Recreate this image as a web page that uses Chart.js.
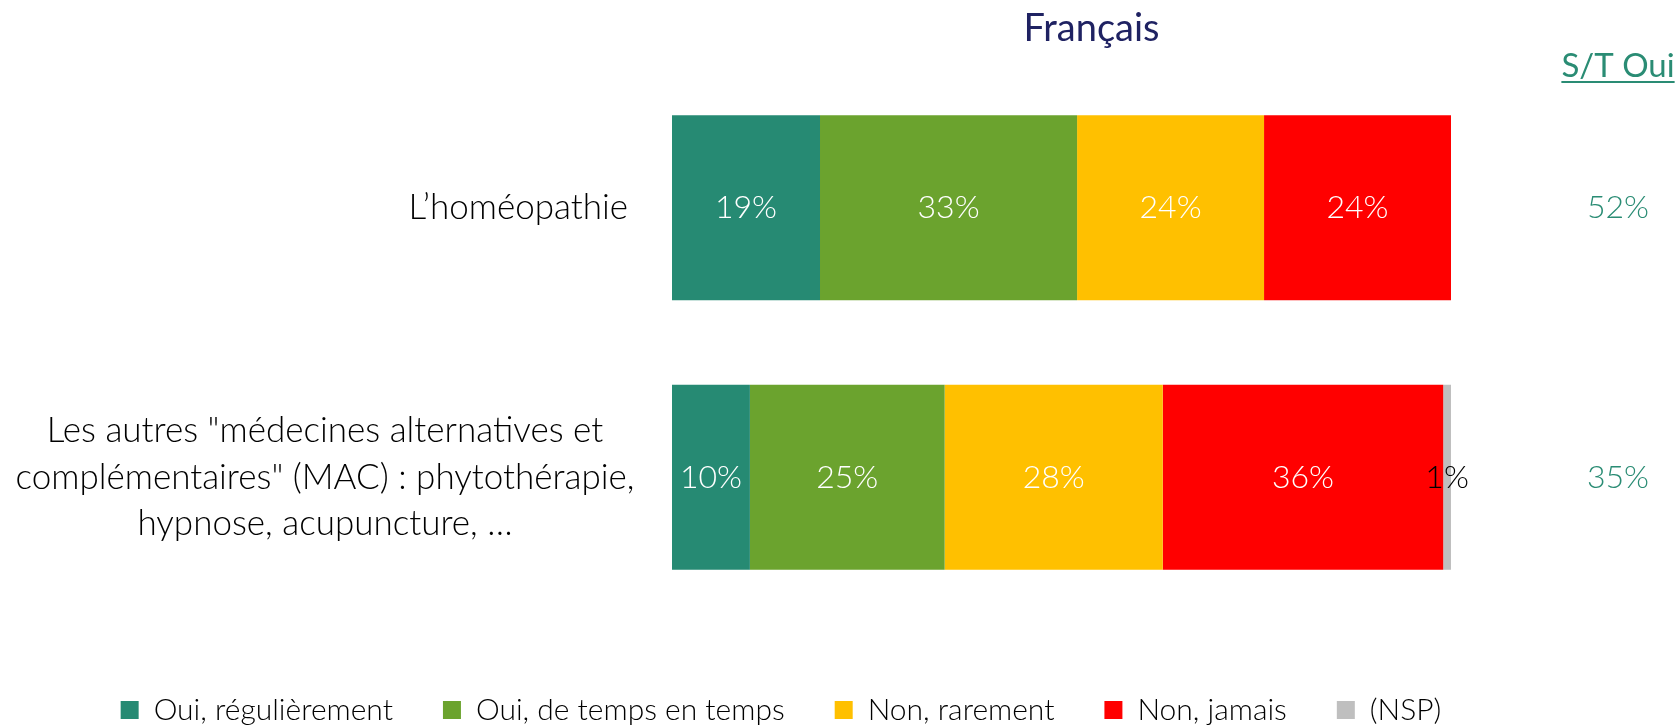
<!DOCTYPE html>
<html>
<head>
<meta charset="utf-8">
<script src="https://cdn.jsdelivr.net/npm/chart.js@4.4.1/dist/chart.umd.min.js"></script>
<style>
html,body{margin:0;padding:0;background:#ffffff;}
#wrap{width:1677px;height:725px;position:relative;}
</style>
</head>
<body>
<div id="wrap"><canvas id="c" width="1677" height="725"></canvas></div>
<script>
// ---- data ----
const chartTitle = 'Français';
const summaryHeader = 'S/T Oui';
const categories = [
  ['L\u2019homéopathie'],
  ['Les autres "médecines alternatives et', 'complémentaires" (MAC) : phytothérapie,', 'hypnose, acupuncture, …']
];
const seriesNames = ['Oui, régulièrement', 'Oui, de temps en temps', 'Non, rarement', 'Non, jamais', '(NSP)'];
const ouiRegulierement = [19, 10];
const ouiDeTempsEnTemps = [33, 25];
const nonRarement = [24, 28];
const nonJamais = [24, 36];
const nsp = [0, 1];
const seriesColors = ['#268A73', '#6BA32E', '#FFC000', '#FF0000', '#BFBFBF'];

const FONT = "Lato, 'Open Sans', 'DejaVu Sans', sans-serif";
Chart.defaults.font.family = FONT;

const series = [ouiRegulierement, ouiDeTempsEnTemps, nonRarement, nonJamais, nsp];
const datasets = series.map((d, i) => ({
  label: seriesNames[i],
  data: d,
  backgroundColor: seriesColors[i],
  borderWidth: 0,
  barPercentage: 0.686,
  categoryPercentage: 1
}));

const overlay = {
  id: 'overlay',
  afterDatasetsDraw(chart) {
    const ctx = chart.ctx;
    const ca = chart.chartArea;
    // value labels inside bars
    chart.data.datasets.forEach((ds, di) => {
      const meta = chart.getDatasetMeta(di);
      meta.data.forEach((bar, i) => {
        const v = ds.data[i];
        if (!v) return;
        ctx.save();
        ctx.font = '300 32px ' + FONT;
        ctx.fillStyle = di === 4 ? '#000000' : '#ffffff';
        ctx.textAlign = 'center';
        ctx.textBaseline = 'middle';
        ctx.fillText(v + '%', (bar.x + bar.base) / 2, bar.y);
        ctx.restore();
      });
    });
    // category labels
    const meta0 = chart.getDatasetMeta(0);
    categories.forEach((lines, i) => {
      const yc = meta0.data[i].y;
      ctx.save();
      ctx.font = '300 35px ' + FONT;
      ctx.fillStyle = '#000000';
      ctx.textBaseline = 'middle';
      const lh = 46.5;
      lines.forEach((t, k) => {
        const y = yc + (k - (lines.length - 1) / 2) * lh;
        if (lines.length === 1) {
          ctx.textAlign = 'right';
          ctx.fillText(t, ca.left - 44, y);
        } else {
          ctx.textAlign = 'center';
          ctx.fillText(t, 325, y);
        }
      });
      ctx.restore();
    });
    // summary column (S/T Oui = sum of the two "Oui" series)
    const colX = ca.right + 167;
    chart.data.labels.forEach((l, i) => {
      const yc = meta0.data[i].y;
      const s = ouiRegulierement[i] + ouiDeTempsEnTemps[i];
      ctx.save();
      ctx.font = '300 32px ' + FONT;
      ctx.fillStyle = '#2A8C74';
      ctx.textAlign = 'center';
      ctx.textBaseline = 'middle';
      ctx.fillText(s + '%', colX, yc);
      ctx.restore();
    });
    // header
    ctx.save();
    ctx.font = '400 33px ' + FONT;
    ctx.fillStyle = '#2A8C74';
    ctx.textAlign = 'center';
    ctx.textBaseline = 'alphabetic';
    ctx.fillText(summaryHeader, colX, 77);
    const w = ctx.measureText(summaryHeader).width;
    ctx.fillRect(colX - w / 2, 81, w, 2);
    ctx.restore();
    // title
    ctx.save();
    ctx.font = '400 38px ' + FONT;
    ctx.fillStyle = '#1F2262';
    ctx.textAlign = 'center';
    ctx.textBaseline = 'middle';
    ctx.fillText(chartTitle, (ca.left + ca.right) / 2 + 30, 29);
    ctx.restore();
  }
};

new Chart(document.getElementById('c'), {
  type: 'bar',
  data: { labels: categories, datasets: datasets },
  options: {
    responsive: false,
    animation: false,
    devicePixelRatio: 1,
    indexAxis: 'y',
    layout: { padding: { top: 73, right: 115, bottom: -10, left: 0 } },
    scales: {
      x: {
        stacked: true, min: 0, max: 100,
        grid: { display: false }, border: { display: false },
        ticks: { display: false },
        afterFit: s => { s.height = 33; }
      },
      y: {
        stacked: true,
        grid: { display: false }, border: { display: false },
        ticks: { display: false },
        afterFit: s => { s.width = 672; }
      },
      y2: {
        type: 'category', position: 'right',
        grid: { display: false }, border: { display: false },
        ticks: { display: false },
        afterFit: s => { s.width = 111; }
      }
    },
    plugins: {
      legend: {
        position: 'bottom',
        labels: {
          boxWidth: 18, boxHeight: 18, padding: 50,
          color: '#000000',
          font: { size: 30, weight: 300 }
        }
      },
      tooltip: { enabled: false },
      title: { display: false }
    }
  },
  plugins: [overlay]
});
</script>
</body>
</html>
